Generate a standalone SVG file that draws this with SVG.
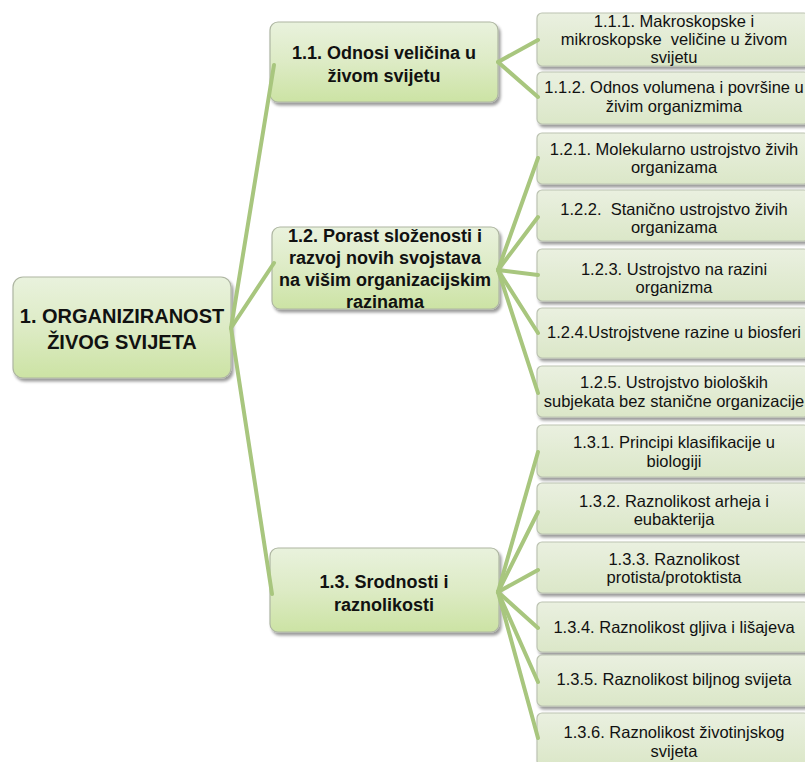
<svg xmlns="http://www.w3.org/2000/svg" width="805" height="762" viewBox="0 0 805 762">
<style>
  .main rect { fill: url(#gMain); stroke: #aeb6a2; stroke-width: 1.2; filter: url(#sh); }
  .leaf rect { fill: url(#gLeaf); stroke: #bcc3b2; stroke-width: 1.2; filter: url(#sh); }
  .t0 { font-family: "Liberation Sans", Arial, sans-serif; font-weight: bold; font-size: 20px; fill: #111; text-anchor: middle; }
  .t1 { font-family: "Liberation Sans", Arial, sans-serif; font-weight: bold; font-size: 18px; fill: #111; text-anchor: middle; }
  .t2 { font-family: "Liberation Sans", Arial, sans-serif; font-size: 16.5px; fill: #111; text-anchor: middle; white-space: pre; }
  #connectors path { fill: none; stroke: #a8c67e; stroke-width: 4; stroke-linecap: round; }
</style>
<defs>
  <linearGradient id="gMain" x1="0" y1="0" x2="0" y2="1">
    <stop offset="0" stop-color="#e9f2dd"/>
    <stop offset="0.5" stop-color="#ddebc5"/>
    <stop offset="1" stop-color="#cce3a4"/>
  </linearGradient>
  <linearGradient id="gLeaf" x1="0" y1="0" x2="0" y2="1">
    <stop offset="0" stop-color="#eaf0e0"/>
    <stop offset="1" stop-color="#dbe7c8"/>
  </linearGradient>
  <filter id="sh" x="-10%" y="-10%" width="125%" height="130%">
    <feGaussianBlur in="SourceAlpha" stdDeviation="1.8"/>
    <feOffset dx="1.5" dy="2.5" result="b"/>
    <feComponentTransfer><feFuncA type="linear" slope="0.4"/></feComponentTransfer>
    <feMerge><feMergeNode/><feMergeNode in="SourceGraphic"/></feMerge>
  </filter>
</defs>

<g id="n1" class="main">
  <rect x="13" y="277" width="218" height="101" rx="10"/>
  <text class="t0" x="122" y="323">1. ORGANIZIRANOST</text>
  <text class="t0" x="122" y="349">ŽIVOG SVIJETA</text>
</g>
<g id="n1_1" class="main">
  <rect x="270" y="22" width="228" height="80" rx="8"/>
  <text class="t1" x="384" y="59">1.1. Odnosi veličina u</text>
  <text class="t1" x="384" y="82">živom svijetu</text>
</g>
<g id="n1_2" class="main">
  <rect x="272" y="227" width="227" height="82" rx="8"/>
  <text class="t1" x="385" y="242">1.2. Porast složenosti i</text>
  <text class="t1" x="385" y="264">razvoj novih svojstava</text>
  <text class="t1" x="385" y="286">na višim organizacijskim</text>
  <text class="t1" x="385" y="308">razinama</text>
</g>
<g id="n1_3" class="main">
  <rect x="270" y="548" width="229" height="84" rx="8"/>
  <text class="t1" x="384" y="588">1.3. Srodnosti i</text>
  <text class="t1" x="384" y="611">raznolikosti</text>
</g>

<g id="n1_1_1" class="leaf">
  <rect x="537" y="13" width="272" height="53" rx="5"/>
  <text class="t2" x="674" y="27">1.1.1. Makroskopske i</text>
  <text class="t2" x="674" y="45" xml:space="preserve">mikroskopske  veličine u živom</text>
  <text class="t2" x="674" y="63">svijetu</text>
</g>
<g id="n1_1_2" class="leaf">
  <rect x="537" y="72" width="272" height="52" rx="5"/>
  <text class="t2" x="674" y="93">1.1.2. Odnos volumena i površine u</text>
  <text class="t2" x="674" y="112">živim organizmima</text>
</g>
<g id="n1_2_1" class="leaf">
  <rect x="537" y="133" width="272" height="51" rx="5"/>
  <text class="t2" x="674" y="155">1.2.1. Molekularno ustrojstvo živih</text>
  <text class="t2" x="674" y="173">organizama</text>
</g>
<g id="n1_2_2" class="leaf">
  <rect x="537" y="190" width="272" height="51" rx="5"/>
  <text class="t2" x="674" y="215" xml:space="preserve">1.2.2.  Stanično ustrojstvo živih</text>
  <text class="t2" x="674" y="233">organizama</text>
</g>
<g id="n1_2_3" class="leaf">
  <rect x="537" y="249" width="272" height="52" rx="5"/>
  <text class="t2" x="674" y="275">1.2.3. Ustrojstvo na razini</text>
  <text class="t2" x="674" y="293">organizma</text>
</g>
<g id="n1_2_4" class="leaf">
  <rect x="537" y="308" width="272" height="50" rx="5"/>
  <text class="t2" x="674" y="338">1.2.4.Ustrojstvene razine u biosferi</text>
</g>
<g id="n1_2_5" class="leaf">
  <rect x="537" y="366" width="272" height="51" rx="5"/>
  <text class="t2" x="674" y="388">1.2.5. Ustrojstvo bioloških</text>
  <text class="t2" x="674" y="407">subjekata bez stanične organizacije</text>
</g>
<g id="n1_3_1" class="leaf">
  <rect x="537" y="425" width="272" height="52" rx="5"/>
  <text class="t2" x="674" y="448">1.3.1. Principi klasifikacije u</text>
  <text class="t2" x="674" y="467">biologiji</text>
</g>
<g id="n1_3_2" class="leaf">
  <rect x="537" y="483" width="272" height="51" rx="5"/>
  <text class="t2" x="674" y="507">1.3.2. Raznolikost arheja i</text>
  <text class="t2" x="674" y="525">eubakterija</text>
</g>
<g id="n1_3_3" class="leaf">
  <rect x="537" y="542" width="272" height="51" rx="5"/>
  <text class="t2" x="674" y="565">1.3.3. Raznolikost</text>
  <text class="t2" x="674" y="583">protista/protoktista</text>
</g>
<g id="n1_3_4" class="leaf">
  <rect x="537" y="602" width="272" height="50" rx="5"/>
  <text class="t2" x="674" y="633">1.3.4. Raznolikost gljiva i lišajeva</text>
</g>
<g id="n1_3_5" class="leaf">
  <rect x="537" y="655" width="272" height="51" rx="5"/>
  <text class="t2" x="674" y="685">1.3.5. Raznolikost biljnog svijeta</text>
</g>
<g id="n1_3_6" class="leaf">
  <rect x="537" y="713" width="272" height="53" rx="5"/>
  <text class="t2" x="674" y="738">1.3.6. Raznolikost životinjskog</text>
  <text class="t2" x="674" y="757">svijeta</text>
</g>

<g id="connectors">
  <path d="M231 328 L274 65"/>
  <path d="M231 328 L274 263"/>
  <path d="M231 328 L272 594"/>
  <path d="M498 62 L538 40"/>
  <path d="M498 62 L538 97"/>
  <path d="M498 270 L538 158"/>
  <path d="M498 270 L538 217"/>
  <path d="M498 270 L538 275"/>
  <path d="M498 270 L538 333"/>
  <path d="M498 270 L538 393"/>
  <path d="M498 592 L538 452"/>
  <path d="M498 592 L538 512"/>
  <path d="M498 592 L538 570"/>
  <path d="M498 592 L538 628"/>
  <path d="M498 592 L538 682"/>
  <path d="M498 592 L538 738"/>
</g>
</svg>
